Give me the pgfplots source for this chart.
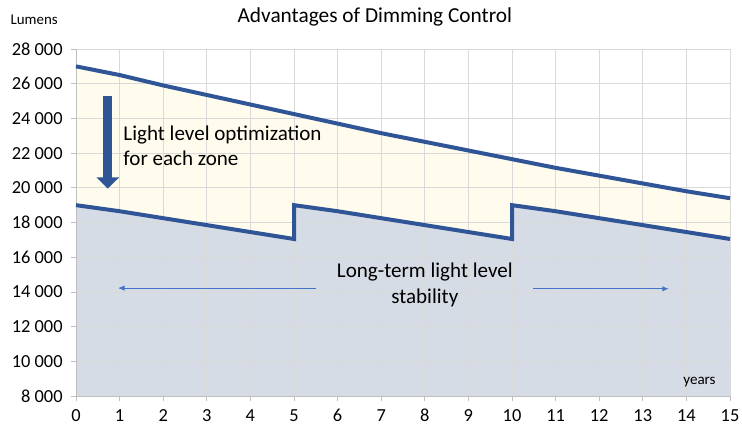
\documentclass[border=0pt]{standalone}
\usepackage{pgfplots}
\pgfplotsset{compat=1.18}
\usepackage{fontspec}
\setmainfont{Carlito}
\usetikzlibrary{arrows.meta}
\definecolor{lineblue}{HTML}{2F5597}
\definecolor{arrblue}{HTML}{4472C4}
\definecolor{fillyellow}{HTML}{FFFCEE}
\definecolor{fillblue}{HTML}{D6DCE5}
\definecolor{gridgray}{HTML}{D9D9D9}
\definecolor{axisgray}{HTML}{BFBFBF}
\begin{document}
\begin{tikzpicture}
\begin{axis}[name=ax, scale only axis, width=490.5pt, height=260.25pt,
  set layers,
  xmin=0, xmax=15, ymin=8000, ymax=28000,
  xtick={0,...,15}, ytick={8000,10000,...,28000},
  grid=major, grid style={color=gridgray, line width=0.6pt},
  axis lines*=left, axis line style={color=axisgray, line width=0.6pt},
  tick style={color=axisgray, line width=0.6pt}, tick align=outside, major tick length=3.5pt,
  scaled y ticks=false,
  /pgf/number format/assume math mode=true,
  /pgf/number format/1000 sep={\ },
  ticklabel style={font=\fontsize{13.8}{15}\selectfont, text=black},
  yticklabel style={xshift=-3pt},
  xticklabel style={yshift=-3pt},
  clip=false]
\addplot[draw=none, fill=fillyellow, on layer=axis background] coordinates {(0,8000) (0,27000) (1,26500) (2,25900) (3,25350) (4,24800) (5,24250) (6,23700) (7,23150) (8,22650) (9,22150) (10,21650) (11,21150) (12,20700) (13,20250) (14,19800) (15,19400) (15,8000)} --cycle;
\addplot[draw=none, fill=fillblue, on layer=axis background] coordinates {(0,8000) (0,19000) (1,18650) (2,18250) (3,17850) (4,17450) (5,17050) (5,19000) (6,18650) (7,18250) (8,17850) (9,17450) (10,17050) (10,19000) (11,18650) (12,18250) (13,17850) (14,17450) (15,17050) (15,8000)} --cycle;
\addplot[lineblue, line width=3pt, line join=round] coordinates {(0,27000) (1,26500) (2,25900) (3,25350) (4,24800) (5,24250) (6,23700) (7,23150) (8,22650) (9,22150) (10,21650) (11,21150) (12,20700) (13,20250) (14,19800) (15,19400)};
\addplot[lineblue, line width=3pt, line join=miter] coordinates {(0,19000) (1,18650) (2,18250) (3,17850) (4,17450) (5,17050) (5,19000) (6,18650) (7,18250) (8,17850) (9,17450) (10,17050) (10,19000) (11,18650) (12,18250) (13,17850) (14,17450) (15,17050)};
\draw[lineblue, line width=6.5pt, -{Triangle[width=16.5pt,length=8.5pt]}] (axis cs:0.73,25300) -- (axis cs:0.73,19950);
\node[anchor=west, align=left, font=\fontsize{15.8}{18.75}\selectfont] at (axis cs:0.98,22450) {Light level optimization\\for each zone};
\node[align=center, font=\fontsize{15.8}{19.5}\selectfont] at (axis cs:8,14400) {Long-term light level\\stability};
\draw[arrblue, line width=0.8pt, -{Latex[length=5pt,width=4pt]}] (axis cs:5.5,14220) -- (axis cs:0.96,14220);
\draw[arrblue, line width=0.8pt, -{Latex[length=5pt,width=4pt]}] (axis cs:10.48,14180) -- (axis cs:13.6,14180);
\node[font=\fontsize{11.3}{12}\selectfont] at (axis cs:14.3,8800) {years};
\node[font=\fontsize{16}{18}\selectfont] at ([yshift=24pt]rel axis cs:0.457,1) {Advantages of Dimming Control};
\node[font=\fontsize{11.2}{12}\selectfont] at ([yshift=21.75pt]rel axis cs:-0.064,1) {Lumens};
\end{axis}
\pgfresetboundingbox
\path ([shift={(-57pt,-24.75pt)}]ax.south west) rectangle ([shift={(9pt,36.75pt)}]ax.north east);
\end{tikzpicture}
\end{document}
